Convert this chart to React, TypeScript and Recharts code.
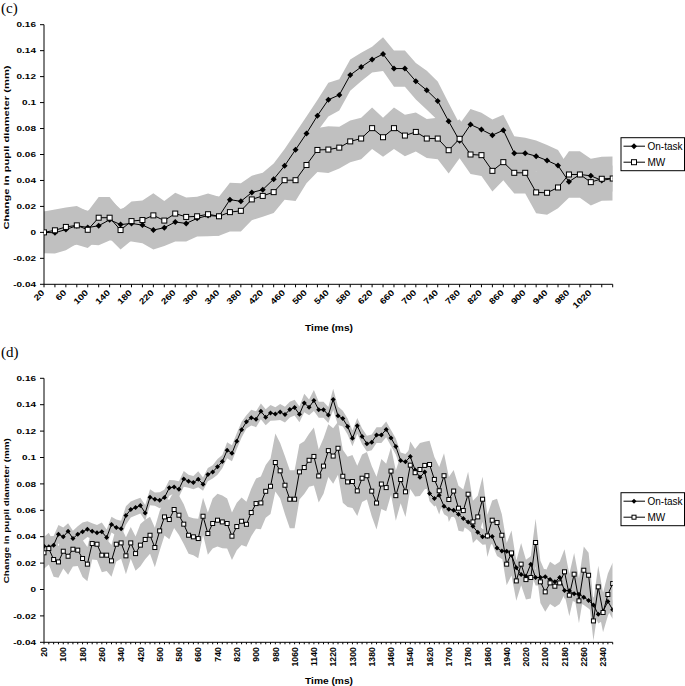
import { ComposedChart, Area, Line, XAxis, YAxis } from 'recharts';

const SANS = '"Liberation Sans", Arial, sans-serif';
const SERIF = '"Liberation Serif", "Times New Roman", serif';

// ---- panel (c) ----
const timeC = [
  20, 40, 60, 80, 100, 120, 140, 160, 180, 200, 220, 240, 260, 280, 300, 320, 340, 360, 380, 400,
  420, 440, 460, 480, 500, 520, 540, 560, 580, 600, 620, 640, 660, 680, 700, 720, 740, 760, 780, 800,
  820, 840, 860, 880, 900, 920, 940, 960, 980, 1000, 1020, 1040, 1060,
];
const labelsC = [20, 60, 100, 140, 180, 220, 260, 300, 340, 380, 420, 460, 500, 540, 580, 620, 660, 700, 740, 780, 820, 860, 900, 940, 980, 1020];

const onTaskC = [
  0, -0.0003, 0.0022, 0.0052, 0.0037, 0.0051, 0.0097, 0.006, 0.0069, 0.0056,
  0.0018, 0.0036, 0.008, 0.0069, 0.0108, 0.013, 0.0124, 0.0252, 0.0239, 0.0307,
  0.0329, 0.041, 0.0513, 0.0637, 0.0762, 0.0899, 0.1022, 0.1059, 0.1212, 0.1274,
  0.1331, 0.1374, 0.1262, 0.1262, 0.1164, 0.1095, 0.1013, 0.0856, 0.0705, 0.0831,
  0.0792, 0.0749, 0.0787, 0.061, 0.061, 0.0587, 0.0554, 0.0515, 0.039, 0.0446,
  0.0436, 0.04, 0.0415,
];
const mwC = [
  0, 0.0016, 0.0042, 0.0054, 0.002, 0.0113, 0.0113, 0.0018, 0.0087, 0.0095,
  0.0131, 0.0091, 0.0145, 0.0119, 0.0124, 0.014, 0.0124, 0.0156, 0.0166, 0.0254,
  0.0281, 0.031, 0.0402, 0.0402, 0.0519, 0.0635, 0.0638, 0.0653, 0.0701, 0.0723,
  0.0803, 0.0733, 0.0803, 0.0746, 0.0774, 0.0723, 0.0723, 0.0633, 0.0721, 0.06,
  0.0595, 0.0474, 0.0541, 0.0459, 0.0459, 0.0308, 0.0305, 0.0346, 0.0446, 0.0446,
  0.0387, 0.0413, 0.0415,
];
const onTaskErrC = [
  0.016, 0.016, 0.016, 0.014, 0.013, 0.015, 0.016, 0.012, 0.014, 0.014,
  0.015, 0.014, 0.015, 0.014, 0.014, 0.016, 0.015, 0.013, 0.014, 0.013,
  0.013, 0.012, 0.013, 0.013, 0.013, 0.012, 0.013, 0.012, 0.012, 0.011,
  0.01, 0.013, 0.014, 0.014, 0.014, 0.015, 0.015, 0.014, 0.013, 0.012,
  0.013, 0.012, 0.012, 0.013, 0.012, 0.012, 0.012, 0.012, 0.011, 0.011,
  0.011, 0.01, 0.01,
];
const mwErrC = [
  0.016, 0.016, 0.015, 0.015, 0.014, 0.016, 0.016, 0.015, 0.015, 0.015,
  0.017, 0.015, 0.016, 0.015, 0.015, 0.016, 0.015, 0.015, 0.016, 0.016,
  0.016, 0.016, 0.015, 0.016, 0.014, 0.017, 0.018, 0.016, 0.016, 0.016,
  0.016, 0.015, 0.016, 0.016, 0.015, 0.015, 0.016, 0.018, 0.015, 0.015,
  0.016, 0.016, 0.014, 0.016, 0.016, 0.016, 0.017, 0.016, 0.018, 0.018,
  0.018, 0.017, 0.017,
];

// ---- panel (d) ----
const timeD = [
  20, 40, 60, 80, 100, 120, 140, 160, 180, 200,
  220, 240, 260, 280, 300, 320, 340, 360, 380, 400,
  420, 440, 460, 480, 500, 520, 540, 560, 580, 600,
  620, 640, 660, 680, 700, 720, 740, 760, 780, 800,
  820, 840, 860, 880, 900, 920, 940, 960, 980, 1000,
  1020, 1040, 1060, 1080, 1100, 1120, 1140, 1160, 1180, 1200,
  1220, 1240, 1260, 1280, 1300, 1320, 1340, 1360, 1380, 1400,
  1420, 1440, 1460, 1480, 1500, 1520, 1540, 1560, 1580, 1600,
  1620, 1640, 1660, 1680, 1700, 1720, 1740, 1760, 1780, 1800,
  1820, 1840, 1860, 1880, 1900, 1920, 1940, 1960, 1980, 2000,
  2020, 2040, 2060, 2080, 2100, 2120, 2140, 2160, 2180, 2200,
  2220, 2240, 2260, 2280, 2300, 2320, 2340, 2360, 2380,
];
const labelsD = [20, 100, 180, 260, 340, 420, 500, 580, 660, 740, 820, 900, 980, 1060, 1140, 1220, 1300, 1380, 1460, 1540, 1620, 1700, 1780, 1860, 1940, 2020, 2100, 2180, 2260, 2340];

const onTaskD = [
  0.0328, 0.0323, 0.0336, 0.0419, 0.0399, 0.0442, 0.0386, 0.0419, 0.0437, 0.0457,
  0.0442, 0.0429, 0.0437, 0.0394, 0.0492, 0.047, 0.046, 0.056, 0.0606, 0.0621,
  0.0636, 0.058, 0.0699, 0.0684, 0.0676, 0.0697, 0.077, 0.0777, 0.076, 0.0838,
  0.082, 0.081, 0.0835, 0.0798, 0.0871, 0.0891, 0.0929, 0.0969, 0.1055, 0.1032,
  0.1124, 0.1211, 0.127, 0.1302, 0.129, 0.135, 0.1305, 0.1338, 0.133, 0.1345,
  0.1325, 0.1363, 0.1378, 0.1327, 0.1413, 0.138, 0.1432, 0.1362, 0.1362, 0.1322,
  0.144, 0.1316, 0.1295, 0.1235, 0.1145, 0.124, 0.116, 0.1105, 0.1115, 0.117,
  0.117, 0.1213, 0.1148, 0.1083, 0.0977, 0.0967, 0.1007, 0.0905, 0.085, 0.089,
  0.0728, 0.0689, 0.0714, 0.0631, 0.0608, 0.0601, 0.057, 0.0538, 0.0512, 0.0479,
  0.0433, 0.0399, 0.0403, 0.0402, 0.0314, 0.0291, 0.0289, 0.026, 0.0165, 0.0114,
  0.0101, 0.0192, 0.0091, 0.0091, 0.0096, 0.0075, 0.0058, 0.0091, -0.0008, -0.001,
  -0.0033, -0.0036, -0.0058, -0.0083, -0.0117, -0.0188, -0.0165, -0.009, -0.0154,
];
const mwD = [
  0.0278, 0.031, 0.0227, 0.0209, 0.029, 0.0252, 0.0305, 0.0298, 0.0235, 0.0192,
  0.0348, 0.0343, 0.026, 0.026, 0.0217, 0.0343, 0.0353, 0.0255, 0.0353, 0.0272,
  0.0336, 0.0379, 0.0411, 0.0318, 0.0444, 0.055, 0.053, 0.0606, 0.0563, 0.0495,
  0.0411, 0.0399, 0.0386, 0.0555, 0.0424, 0.05, 0.0525, 0.0512, 0.05, 0.0404,
  0.0477, 0.0517, 0.0494, 0.0583, 0.0651, 0.0656, 0.0744, 0.0782, 0.0962, 0.0899,
  0.079, 0.0684, 0.0684, 0.0891, 0.0924, 0.0979, 0.1008, 0.086, 0.0935, 0.1052,
  0.1011, 0.107, 0.0858, 0.0815, 0.0818, 0.0747, 0.0843, 0.0862, 0.0745, 0.0655,
  0.0799, 0.0772, 0.0897, 0.0711, 0.0833, 0.074, 0.0942, 0.0885, 0.0909, 0.094,
  0.0947, 0.0834, 0.0748, 0.0862, 0.0682, 0.0746, 0.0616, 0.0598, 0.0722, 0.0512,
  0.055, 0.0684, 0.0406, 0.0525, 0.0507, 0.0411, 0.0192, 0.0277, 0.0065, 0.0192,
  0.0075, 0.0091, 0.0356, 0.0058, -0.0018, 0.005, 0.0025, 0.005, 0.0134, -0.0043,
  0.0116, -0.0086, 0.0146, 0.0108, -0.0238, 0.002, -0.0174, -0.0038, 0.0045,
];
const onTaskErrD = [
  0.008, 0.008, 0.007, 0.007, 0.007, 0.006, 0.006, 0.006, 0.007, 0.006,
  0.006, 0.006, 0.007, 0.006, 0.006, 0.006, 0.006, 0.007, 0.006, 0.006,
  0.006, 0.006, 0.006, 0.005, 0.006, 0.006, 0.006, 0.005, 0.006, 0.006,
  0.005, 0.005, 0.006, 0.005, 0.005, 0.005, 0.006, 0.005, 0.006, 0.006,
  0.006, 0.006, 0.005, 0.006, 0.006, 0.006, 0.006, 0.006, 0.005, 0.006,
  0.006, 0.006, 0.006, 0.006, 0.007, 0.006, 0.008, 0.006, 0.006, 0.006,
  0.008, 0.007, 0.006, 0.006, 0.006, 0.006, 0.006, 0.006, 0.006, 0.006,
  0.006, 0.006, 0.006, 0.006, 0.006, 0.006, 0.006, 0.006, 0.006, 0.006,
  0.006, 0.006, 0.006, 0.006, 0.006, 0.005, 0.006, 0.006, 0.006, 0.006,
  0.006, 0.006, 0.006, 0.006, 0.006, 0.006, 0.006, 0.006, 0.006, 0.006,
  0.006, 0.006, 0.006, 0.006, 0.006, 0.006, 0.006, 0.006, 0.006, 0.006,
  0.006, 0.006, 0.006, 0.006, 0.006, 0.007, 0.007, 0.007, 0.007,
];
const mwErrD = [
  0.012, 0.012, 0.013, 0.012, 0.013, 0.014, 0.013, 0.012, 0.014, 0.013,
  0.012, 0.012, 0.013, 0.012, 0.012, 0.013, 0.012, 0.014, 0.012, 0.013,
  0.016, 0.015, 0.014, 0.015, 0.015, 0.014, 0.015, 0.014, 0.015, 0.015,
  0.014, 0.014, 0.015, 0.014, 0.016, 0.019, 0.02, 0.02, 0.019, 0.018,
  0.018, 0.018, 0.017, 0.018, 0.019, 0.02, 0.02, 0.021, 0.022, 0.021,
  0.022, 0.022, 0.022, 0.021, 0.02, 0.02, 0.022, 0.02, 0.021, 0.02,
  0.021, 0.02, 0.02, 0.019, 0.02, 0.019, 0.018, 0.018, 0.019, 0.02,
  0.019, 0.018, 0.018, 0.019, 0.018, 0.019, 0.018, 0.018, 0.02, 0.018,
  0.018, 0.017, 0.018, 0.017, 0.017, 0.016, 0.017, 0.016, 0.017, 0.016,
  0.016, 0.017, 0.016, 0.015, 0.018, 0.016, 0.016, 0.017, 0.015, 0.016,
  0.015, 0.016, 0.018, 0.016, 0.015, 0.016, 0.016, 0.016, 0.017, 0.016,
  0.016, 0.017, 0.018, 0.017, 0.015, 0.016, 0.015, 0.016, 0.016,
];

const yTicks = [-0.04, -0.02, 0, 0.02, 0.04, 0.06, 0.08, 0.1, 0.12, 0.14, 0.16];
const yTickLabels = ['-0.04', '-0.02', '0', '0.02', '0.04', '0.06', '0.08', '0.1', '0.12', '0.14', '0.16'];

const buildRows = (times: number[], onTask: number[], mw: number[], onTaskErr: number[], mwErr: number[]) =>
  times.map((t, i) => ({
    t,
    onTask: onTask[i],
    mw: mw[i],
    onTaskBand: [onTask[i] - onTaskErr[i], onTask[i] + onTaskErr[i]],
    mwBand: [mw[i] - mwErr[i], mw[i] + mwErr[i]],
  }));

const rowsC = buildRows(timeC, onTaskC, mwC, onTaskErrC, mwErrC);
const rowsD = buildRows(timeD, onTaskD, mwD, onTaskErrD, mwErrD);

const Diamond = ({ cx, cy, r }: any) => (
  <polygon points={`${cx},${cy - r} ${cx + r},${cy} ${cx},${cy + r} ${cx - r},${cy}`} fill="#000" />
);
const Square = ({ cx, cy, s }: any) => (
  <rect x={cx - s / 2} y={cy - s / 2} width={s} height={s} fill="#fff" stroke="#000" strokeWidth={1} />
);

const YTick = ({ x, y, payload, sy }: any) => {
  const i = yTicks.indexOf(payload.value);
  return (
    <text transform={`translate(${x},${y}) scale(1,${sy})`} textAnchor="end" dy="0.36em"
      fontSize={10} fontWeight="bold" fontFamily={SANS} fill="#000">
      {i >= 0 ? yTickLabels[i] : payload.value}
    </text>
  );
};

const XTickC = ({ x, y, payload }: any) => {
  if (!labelsC.includes(payload.value)) return <g />;
  return (
    <text transform={`translate(${x + 1},${y + 4}) rotate(-45) scale(1,0.85)`} textAnchor="end"
      fontSize={10} fontWeight="bold" fontFamily={SANS} fill="#000">
      {payload.value}
    </text>
  );
};

const XTickD = ({ x, y, payload }: any) => {
  if (!labelsD.includes(payload.value)) return <g />;
  return (
    <text transform={`translate(${x + 3.2},${y + 1}) rotate(-90)`} textAnchor="end"
      fontSize={8.6} fontWeight="bold" fontFamily={SANS} fill="#000">
      {payload.value}
    </text>
  );
};

const Panel = ({ rows, times, height, plotTop, xAxisHeight, tick, tickSize, dotR, sqS, ySy }: any) => (
  <ComposedChart width={685} height={height} data={rows}
    margin={{ top: plotTop, right: 72.3, bottom: 0, left: 0 }}>
    <XAxis dataKey="t" type="number" domain={[times[0], times[times.length - 1]]} ticks={times}
      interval={0} allowDataOverflow height={xAxisHeight} tickSize={tickSize} tickMargin={2}
      axisLine={{ stroke: '#000' }} tickLine={{ stroke: '#000' }} tick={tick} />
    <YAxis type="number" domain={[-0.04, 0.16]} ticks={yTicks} interval={0} allowDataOverflow
      width={44} tickSize={4} tickMargin={4} axisLine={{ stroke: '#000' }} tickLine={{ stroke: '#000' }}
      tick={(p: any) => <YTick {...p} sy={ySy} />} />
    <Area dataKey="onTaskBand" type="linear" stroke="none" fill="#c0c0c0" fillOpacity={1}
      isAnimationActive={false} dot={false} activeDot={false} />
    <Area dataKey="mwBand" type="linear" stroke="none" fill="#c0c0c0" fillOpacity={1}
      isAnimationActive={false} dot={false} activeDot={false} />
    <Line dataKey="onTask" type="linear" stroke="#000" strokeWidth={1} isAnimationActive={false}
      activeDot={false} dot={(p: any) => <Diamond key={`d${p.index}`} cx={p.cx} cy={p.cy} r={dotR} />} />
    <Line dataKey="mw" type="linear" stroke="#000" strokeWidth={1} isAnimationActive={false}
      activeDot={false} dot={(p: any) => <Square key={`s${p.index}`} cx={p.cx} cy={p.cy} s={sqS} />} />
  </ComposedChart>
);

const LegendBox = ({ top, r, s }: any) => (
  <g>
    <rect x={621} y={top} width={63.5} height={33} fill="#fff" stroke="#000" strokeWidth={1} />
    <line x1={623.5} x2={645} y1={top + 8.5} y2={top + 8.5} stroke="#000" />
    <Diamond cx={634} cy={top + 8.5} r={r} />
    <text x={647.5} y={top + 12} fontSize={10} fontFamily={SANS} fill="#000">On-task</text>
    <line x1={623.5} x2={645} y1={top + 24.5} y2={top + 24.5} stroke="#000" />
    <Square cx={634} cy={top + 24.5} s={s} />
    <text x={647.5} y={top + 28} fontSize={10} fontFamily={SANS} fill="#000">MW</text>
  </g>
);

export default function App() {
  return (
    <div style={{ position: 'absolute', left: 0, top: 0, width: 685, height: 686, background: '#fff', overflow: 'hidden' }}>
      <div style={{ position: 'absolute', left: 0, top: 0 }}>
        <Panel rows={rowsC} times={timeC} height={340} plotTop={24.7} xAxisHeight={55.7}
          tick={(p: any) => <XTickC {...p} />} tickSize={3} dotR={3} sqS={5} ySy={0.72} />
      </div>
      <div style={{ position: 'absolute', left: 0, top: 340 }}>
        <Panel rows={rowsD} times={timeD} height={346} plotTop={38.3} xAxisHeight={43.7}
          tick={(p: any) => <XTickD {...p} />} tickSize={2} dotR={2.5} sqS={4} ySy={0.77} />
      </div>
      <svg width={685} height={686} style={{ position: 'absolute', left: 0, top: 0, pointerEvents: 'none' }}>
        <text x={1} y={12.5} fontSize={15} fontFamily={SERIF} fill="#000">(c)</text>
        <text x={1} y={356.5} fontSize={15} fontFamily={SERIF} fill="#000">(d)</text>
        <text transform="translate(8.5,147.5) rotate(-90) scale(1,0.7)" textAnchor="middle"
          fontSize={11.2} fontWeight="bold" fontFamily={SANS} fill="#000">Change in pupil diameter (mm)</text>
        <text transform="translate(8.5,510.7) rotate(-90) scale(1,0.75)" textAnchor="middle"
          fontSize={9.9} fontWeight="bold" fontFamily={SANS} fill="#000">Change in pupil diameter (mm)</text>
        <text transform="translate(329,330.5) scale(1,0.8)" textAnchor="middle"
          fontSize={10.2} fontWeight="bold" fontFamily={SANS} fill="#000">Time (ms)</text>
        <text transform="translate(329,684) scale(1,0.8)" textAnchor="middle"
          fontSize={10.2} fontWeight="bold" fontFamily={SANS} fill="#000">Time (ms)</text>
        <LegendBox top={137.7} r={3} s={5} />
        <LegendBox top={492.7} r={2.5} s={4} />
      </svg>
    </div>
  );
}
